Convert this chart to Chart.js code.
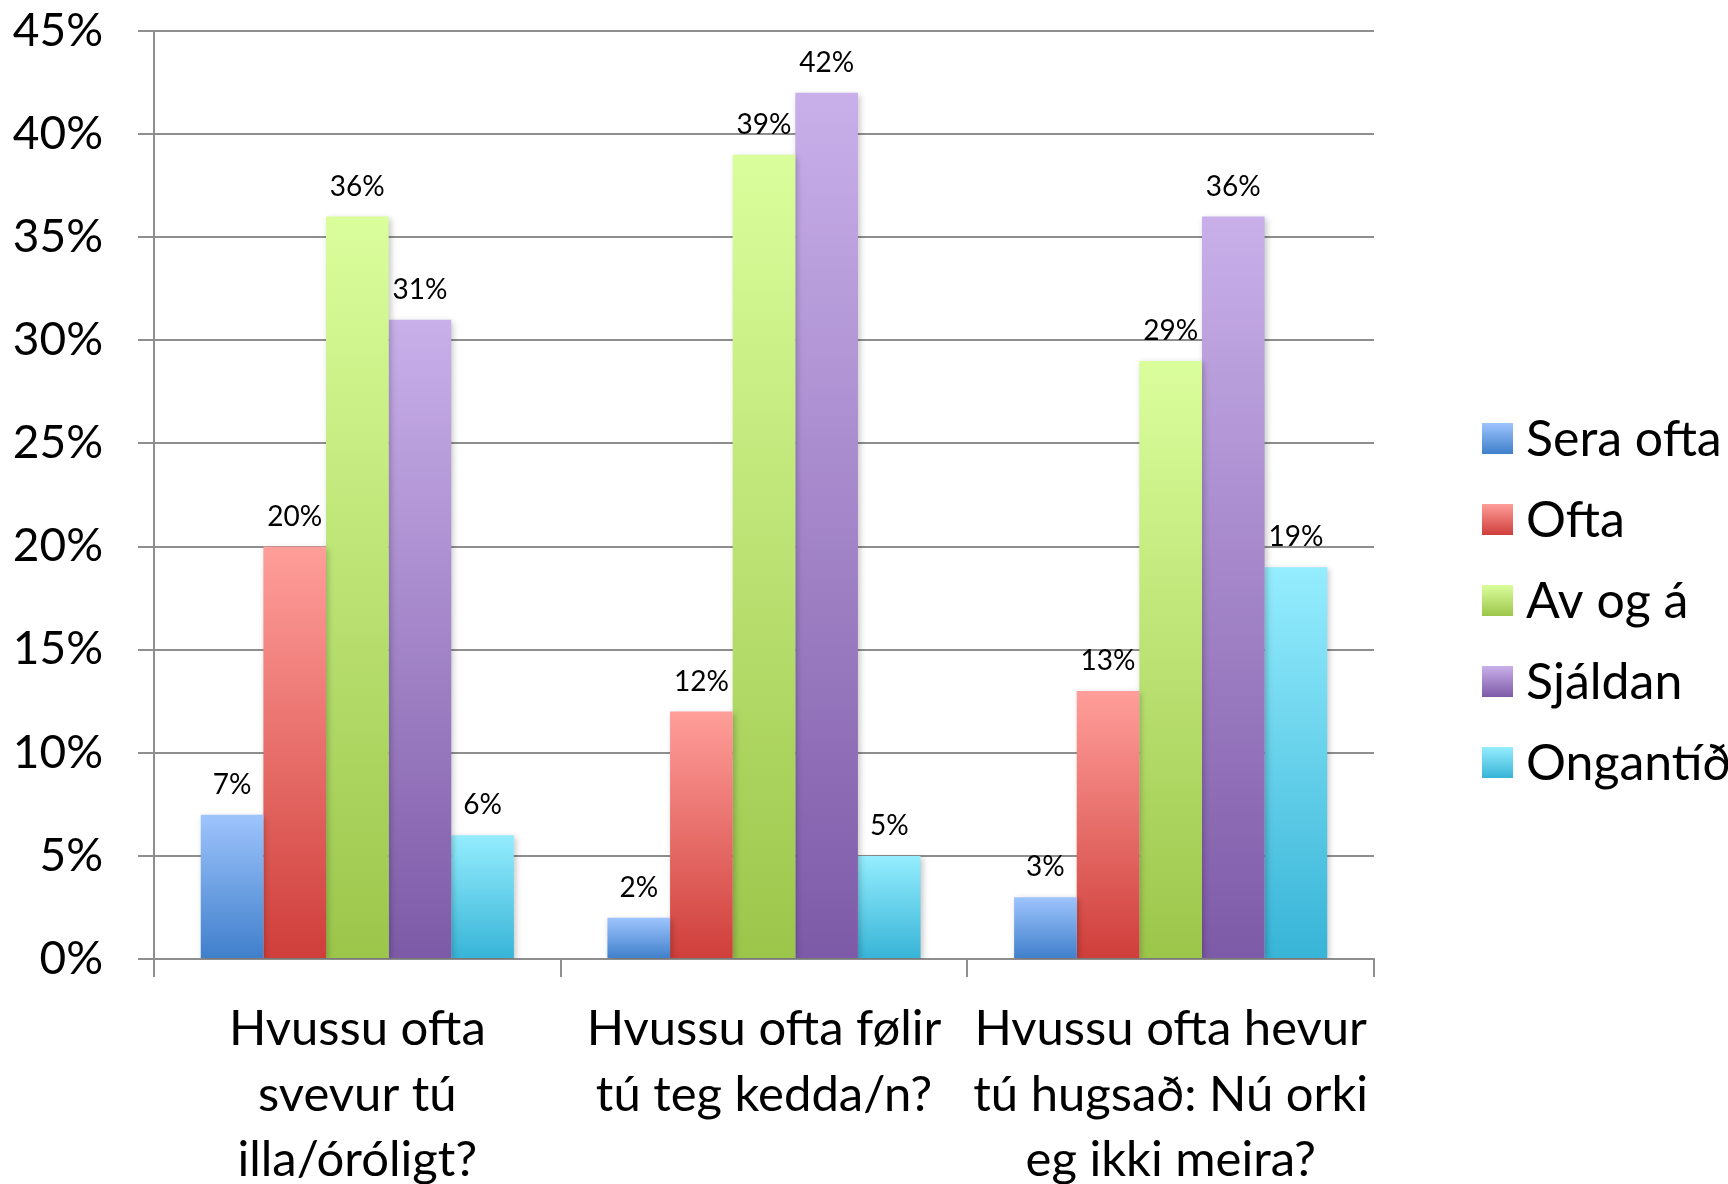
<!DOCTYPE html>
<html>
<head>
<meta charset="utf-8">
<title>Chart</title>
<script src="https://cdn.jsdelivr.net/npm/chart.js@4.4.1/dist/chart.umd.min.js"></script>
<style>
  body { margin: 0; background: #fff; }
  #wrap { width: 1728px; height: 1184px; }
</style>
</head>
<body>
<div id="wrap"><canvas id="barChart"></canvas></div>
<script>
// data
const categories = [
    ["Hvussu ofta", "svevur tú", "illa/óróligt?"],
    ["Hvussu ofta følir", "tú teg kedda/n?"],
    ["Hvussu ofta hevur", "tú hugsað: Nú orki", "eg ikki meira?"]
];
const seriesNames = ["Sera ofta", "Ofta", "Av og á", "Sjáldan", "Ongantíð"];
const seraOfta = [7, 2, 3];
const ofta = [20, 12, 13];
const avOgA = [36, 39, 29];
const sjaldan = [31, 42, 36];
const ongantid = [6, 5, 19];
const yTicks = [0, 5, 10, 15, 20, 25, 30, 35, 40, 45];

// top and bottom colour of each gradient
const colours = [
    ["#9ec4fd", "#3f7fcb"],
    ["#ff9e9a", "#cf3e3a"],
    ["#dbfe9c", "#9bc64a"],
    ["#c9b0ea", "#7d5aa7"],
    ["#95edfe", "#37b4d7"]
];

const font = "Lato";

function barGradient(i) {
    return function (context) {
        const chart = context.chart;
        if (!chart.chartArea || context.raw === undefined) return colours[i][1];
        const y = chart.scales.y;
        const top = y.getPixelForValue(context.raw);
        const base = y.getPixelForValue(0);
        const g = chart.ctx.createLinearGradient(0, top, 0, base);
        g.addColorStop(0, colours[i][0]);
        g.addColorStop(1, colours[i][1]);
        return g;
    };
}

// soft shadow under the bars
const shadowPlugin = {
    id: "shadow",
    beforeDatasetsDraw(chart) {
        const ctx = chart.ctx;
        ctx.save();
        ctx.shadowColor = "rgba(0,0,0,0.22)";
        ctx.shadowBlur = 6;
        ctx.shadowOffsetX = 2;
        ctx.shadowOffsetY = 2;
    },
    afterDatasetsDraw(chart) {
        chart.ctx.restore();
    }
};

// percent labels above the bars
const labelPlugin = {
    id: "valueLabels",
    afterDatasetsDraw(chart) {
        const ctx = chart.ctx;
        ctx.save();
        ctx.font = "28px " + font;
        ctx.fillStyle = "#000";
        ctx.textAlign = "center";
        ctx.textBaseline = "middle";
        chart.data.datasets.forEach((ds, i) => {
            chart.getDatasetMeta(i).data.forEach((bar, j) => {
                ctx.fillText(ds.data[j] + "%", bar.x, bar.y - 30);
            });
        });
        ctx.restore();
    }
};

// legend on the right, drawn by hand so it can run off the edge like the original
const legendPlugin = {
    id: "sideLegend",
    afterDraw(chart) {
        const ctx = chart.ctx;
        ctx.save();
        ctx.font = "50px " + font;
        ctx.textBaseline = "middle";
        ctx.fillStyle = "#000";
        chart.data.datasets.forEach((ds, i) => {
            const cy = 438.5 + i * 81;
            const g = ctx.createLinearGradient(0, cy - 15.5, 0, cy + 15.5);
            g.addColorStop(0, colours[i][0]);
            g.addColorStop(1, colours[i][1]);
            ctx.fillStyle = g;
            ctx.fillRect(1482, cy - 15.5, 31, 31);
            ctx.fillStyle = "#000";
            ctx.fillText(ds.label, 1526, cy + 1);
        });
        ctx.restore();
    }
};

function createChart() {
    const ctx = document.getElementById("barChart");
    const seriesValues = [seraOfta, ofta, avOgA, sjaldan, ongantid];

    new Chart(ctx, {
        type: "bar",
        data: {
            labels: categories,
            datasets: seriesValues.map((values, i) => ({
                label: seriesNames[i],
                data: values,
                backgroundColor: barGradient(i),
                borderWidth: 0,
                categoryPercentage: 0.77,
                barPercentage: 1.0
            }))
        },
        options: {
            responsive: true,
            maintainAspectRatio: false,
            animation: false,
            devicePixelRatio: 1,
            layout: { padding: { top: 31, right: 354, left: 0, bottom: 0 } },
            plugins: {
                legend: { display: false },
                tooltip: { enabled: false }
            },
            scales: {
                x: {
                    afterFit(scale) {
                        scale.height = 225;
                        scale.paddingLeft = 0;
                        scale.paddingRight = 0;
                    },
                    grid: {
                        drawOnChartArea: false,
                        drawTicks: true,
                        tickLength: 18,
                        color: "#8e8e8e",
                        lineWidth: 2
                    },
                    border: { display: true, color: "#8e8e8e", width: 2 },
                    ticks: {
                        color: "#000",
                        font: { family: font, size: 49, lineHeight: 1.33 },
                        padding: 20,
                        maxRotation: 0,
                        autoSkip: false
                    }
                },
                y: {
                    min: 0,
                    max: 45,
                    afterFit(scale) {
                        scale.width = 154;
                        scale.paddingTop = 0;
                        scale.paddingBottom = 0;
                    },
                    afterBuildTicks(scale) {
                        scale.ticks = yTicks.map(v => ({ value: v }));
                    },
                    grid: {
                        drawTicks: true,
                        tickLength: 16,
                        color: "#8e8e8e",
                        lineWidth: 2
                    },
                    border: { display: true, color: "#8e8e8e", width: 2 },
                    ticks: {
                        color: "#000",
                        font: { family: font, size: 46 },
                        padding: 35,
                        callback: v => v + "%"
                    }
                }
            }
        },
        plugins: [shadowPlugin, labelPlugin, legendPlugin]
    });
}

document.addEventListener("DOMContentLoaded", createChart);
</script>
</body>
</html>
